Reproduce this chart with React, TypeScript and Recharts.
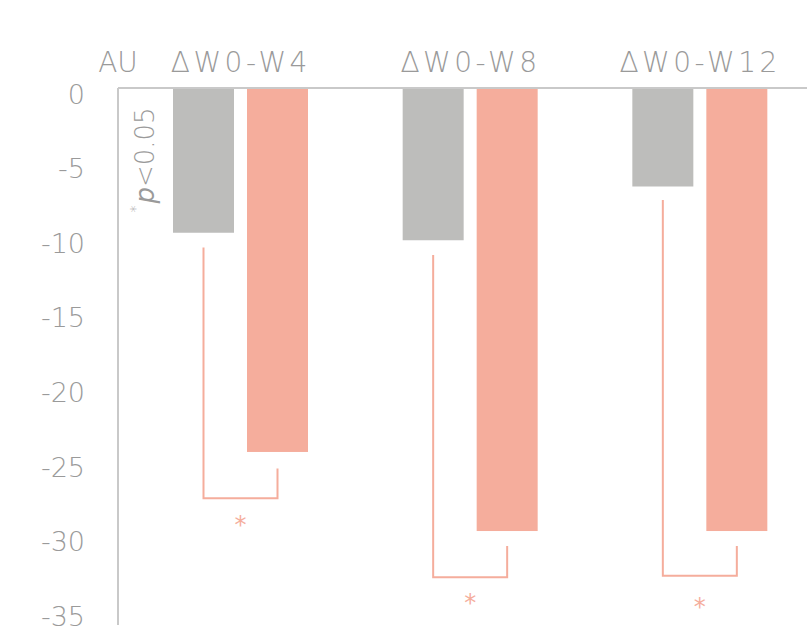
import { BarChart, Bar, XAxis, YAxis } from 'recharts';

const categories = ['ΔW0-W4', 'ΔW0-W8', 'ΔW0-W12'];
const controlValues = [-9.7, -10.2, -6.6];
const treatedValues = [-24.4, -29.7, -29.7];
// significance brackets (AU)
const bracketLeftTop = [-10.7, -11.2, -7.5];
const bracketRightTop = [-25.5, -30.7, -30.7];
const bracketBottom = [-27.5, -32.8, -32.7];
const starLevel = [-29.1, -34.3, -34.6];
const yTicks = [0, -5, -10, -15, -20, -25, -30, -35];

const GRAY = '#bdbdbb';
const SALMON = '#f5ad9c';
const AXIS = '#c9c9c9';
const TEXT = '#9a9a9a';
const FONT = '"DejaVu Sans", sans-serif';
const BAR_SIZE = 61;
const BAR_GAP = 13;

const data = categories.map((c, i) => ({
  name: c,
  control: controlValues[i],
  treated: treatedValues[i],
}));

function TreatedBar(props: any) {
  const { x, y, width, height, index } = props;
  const top = Math.min(y, y + height);
  const h = Math.abs(height);
  const unit = h / Math.abs(treatedValues[index]);
  const toY = (v: number) => top - v * unit;
  const lx = x - BAR_GAP - width / 2;
  const rx = x + width / 2;
  const by = toY(bracketBottom[index]);
  return (
    <g>
      <rect x={x} y={top} width={width} height={h} fill={SALMON} />
      <polyline
        points={`${lx},${toY(bracketLeftTop[index])} ${lx},${by} ${rx},${by} ${rx},${toY(bracketRightTop[index])}`}
        fill="none"
        stroke={SALMON}
        strokeWidth={2}
      />
      <text
        x={(lx + rx) / 2}
        y={toY(starLevel[index]) + 11}
        textAnchor="middle"
        fill={SALMON}
        fontSize={24}
        fontFamily={FONT}
      >
        *
      </text>
    </g>
  );
}

function AxisNotes(props: any) {
  const { viewBox } = props;
  const ax = viewBox.x + viewBox.width;
  const cx = ax + 27;
  const cy = viewBox.y + 72;
  return (
    <g fontFamily={FONT} fill={TEXT}>
      <text x={ax} y={viewBox.y - 16} textAnchor="middle" fontSize={28} fontWeight={300}>
        AU
      </text>
      <text
        x={cx}
        y={cy}
        textAnchor="middle"
        dominantBaseline="central"
        fontSize={26}
        fontWeight={300}
        transform={`rotate(-90 ${cx} ${cy})`}
      >
        <tspan fontSize={14} dy={-10}>*</tspan>
        <tspan fontStyle="italic" fontWeight={300} dy={10} dx={2}>p</tspan>
        <tspan>&lt;0.05</tspan>
      </text>
    </g>
  );
}

export default function App() {
  return (
    <div style={{ position: 'absolute', left: 0, top: 0, width: 807, height: 628, overflow: 'hidden', background: '#fff' }}>
      <BarChart
        width={815}
        height={628}
        data={data}
        margin={{ top: 0, right: 0, bottom: 3, left: 0 }}
        barSize={BAR_SIZE}
        barGap={BAR_GAP}
      >
        <XAxis
          dataKey="name"
          orientation="top"
          height={88}
          padding={{ left: 8, right: 0 }}
          axisLine={{ stroke: AXIS, strokeWidth: 2 }}
          tickLine={false}
          tickSize={0}
          tickMargin={16}
          tick={{ fill: TEXT, fontSize: 28, fontFamily: FONT, fontWeight: 300, letterSpacing: 3.5 }}
        />
        <YAxis
          width={118}
          domain={[-36, 0]}
          ticks={yTicks}
          interval={0}
          axisLine={{ stroke: AXIS, strokeWidth: 2 }}
          tickLine={false}
          tickSize={0}
          tickMargin={33}
          tick={{ fill: TEXT, fontSize: 27, fontFamily: FONT, fontWeight: 300, dy: 6 }}
          label={<AxisNotes />}
        />
        <Bar dataKey="control" fill={GRAY} isAnimationActive={false} />
        <Bar dataKey="treated" fill={SALMON} shape={TreatedBar} isAnimationActive={false} />
      </BarChart>
    </div>
  );
}
